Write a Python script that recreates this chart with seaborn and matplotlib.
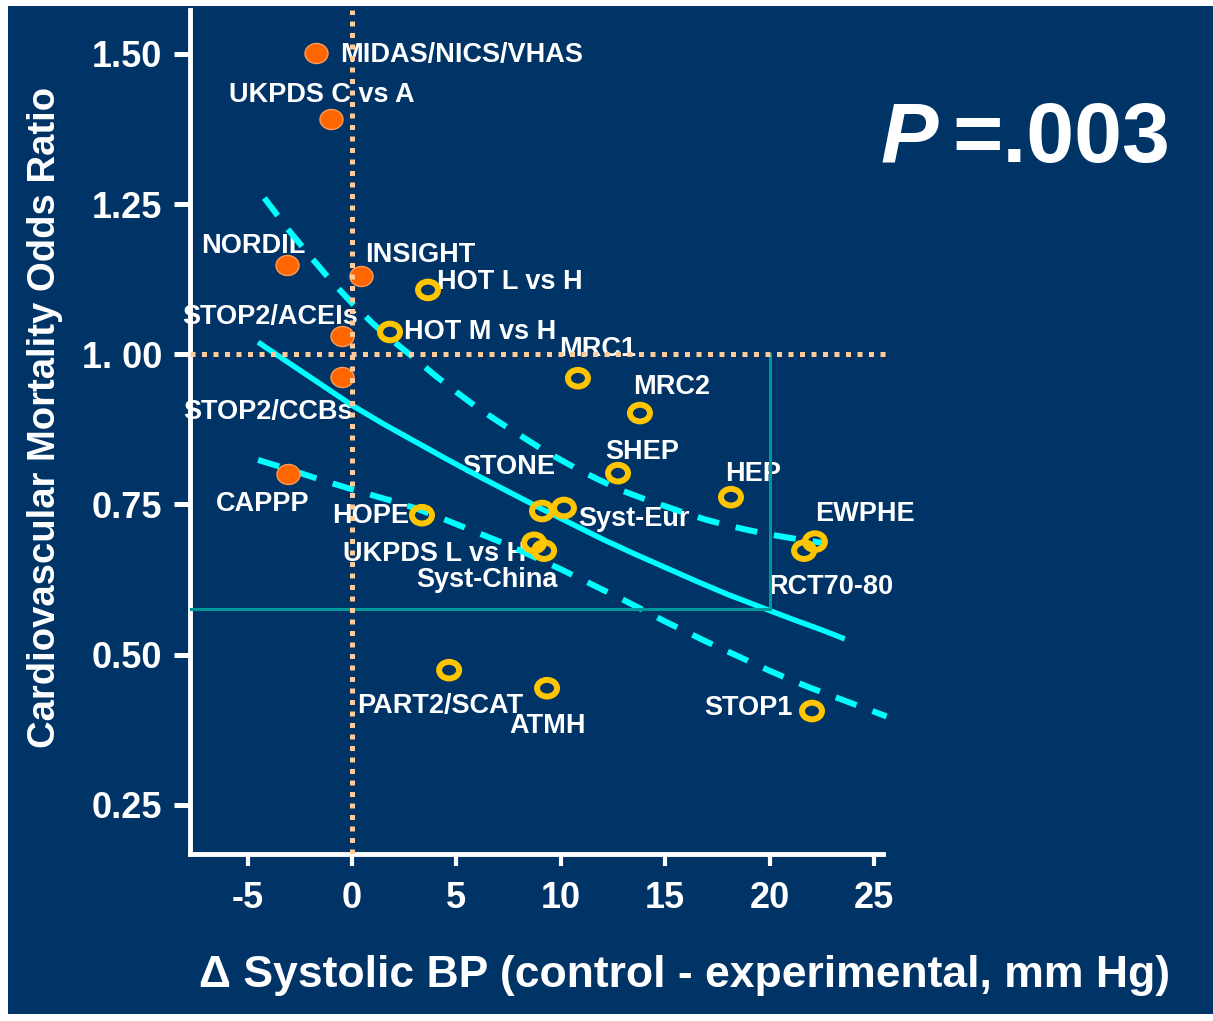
import matplotlib
matplotlib.use("Agg")
import matplotlib.pyplot as plt
from matplotlib.path import Path
from matplotlib.transforms import Affine2D
from matplotlib.patches import Rectangle
import seaborn as sns

# ---- trials comparing active drug classes (filled markers) ----
active_names = ["MIDAS/NICS/VHAS", "UKPDS C vs A", "NORDIL", "INSIGHT",
                "STOP2/ACEIs", "STOP2/CCBs", "CAPPP"]
active_dsbp = [-1.72, -1.0, -3.11, 0.43, -0.48, -0.48, -3.07]
active_or = [1.501, 1.391, 1.149, 1.130, 1.030, 0.962, 0.800]

# ---- trials against placebo / less intensive control (open markers) ----
placebo_names = ["HOT L vs H", "HOT M vs H", "MRC1", "MRC2", "SHEP", "HEP",
                 "STONE", "Syst-Eur", "HOPE", "UKPDS L vs H", "Syst-China",
                 "EWPHE", "RCT70-80", "PART2/SCAT", "ATMH", "STOP1"]
placebo_dsbp = [3.64, 1.82, 10.82, 13.79, 12.74, 18.15, 9.10, 10.15, 3.35,
                8.72, 9.20, 22.17, 21.65, 4.65, 9.34, 22.03]
placebo_or = [1.107, 1.037, 0.960, 0.902, 0.802, 0.762, 0.739, 0.744, 0.732,
              0.686, 0.673, 0.688, 0.673, 0.474, 0.444, 0.406]

# ---- meta-regression line and its confidence limits ----
fit_x = [-4.5, -3, -1.5, 0, 1.5, 3, 4.5, 6, 7.5, 9, 10.5, 12, 13.5, 15,
         16.5, 18, 19.5, 21, 22.5, 23.6]
fit_or = [1.02, 0.985, 0.95, 0.915, 0.884, 0.855, 0.826, 0.798, 0.771,
          0.744, 0.718, 0.692, 0.668, 0.645, 0.622, 0.600, 0.580, 0.560,
          0.541, 0.526]
upper_x = [-4.2, -3, -2, -1, 0, 1, 2, 3, 4, 5, 6, 7, 8, 9, 10, 11, 12, 13,
           14, 15, 16, 17, 18, 19, 20, 21, 22, 22.5]
upper_or = [1.26, 1.205, 1.163, 1.122, 1.085, 1.051, 1.021, 0.993, 0.964,
            0.937, 0.911, 0.888, 0.866, 0.844, 0.824, 0.805, 0.788, 0.772,
            0.759, 0.747, 0.735, 0.724, 0.715, 0.707, 0.700, 0.694, 0.689,
            0.686]
lower_x = [-4.5, -3, -1.5, 0, 1, 2, 3, 4, 5, 6, 7, 8, 9, 10, 11, 12, 13, 14,
           15, 16, 17, 18, 19, 20, 21, 22, 23, 24, 25, 25.6]
lower_or = [0.824, 0.808, 0.791, 0.775, 0.765, 0.755, 0.744, 0.731, 0.717,
            0.703, 0.689, 0.674, 0.658, 0.642, 0.625, 0.608, 0.591, 0.573,
            0.555, 0.538, 0.521, 0.505, 0.489, 0.473, 0.458, 0.444, 0.431,
            0.418, 0.405, 0.397]

# ---- 20 mm Hg reading on the regression line ----
ref_dsbp = 20
ref_or = 0.576

# ---- axis ticks ----
x_ticks = [-5, 0, 5, 10, 15, 20, 25]
x_tick_labels = ["-5", "0", "5", "10", "15", "20", "25"]
y_ticks = [0.25, 0.50, 0.75, 1.00, 1.25, 1.50]
y_tick_labels = ["0.25", "0.50", "0.75", "1. 00", "1.25", "1.50"]

# label placement: (dx, dy) in pixels from the marker, horizontal alignment
label_offsets = {
    "MIDAS/NICS/VHAS": (24, -2, "left"),
    "UKPDS C vs A": (-9, 24, "center"),
    "NORDIL": (-34, 19, "center"),
    "INSIGHT": (4, 21, "left"),
    "STOP2/ACEIs": (-72, 19, "center"),
    "STOP2/CCBs": (-74, -35, "center"),
    "CAPPP": (-25, -30, "center"),
    "HOT L vs H": (9, 8, "left"),
    "HOT M vs H": (14, 0, "left"),
    "MRC1": (20, 29, "center"),
    "MRC2": (32, 26, "center"),
    "SHEP": (24, 21, "center"),
    "HEP": (22, 23, "center"),
    "STONE": (-33, 44, "center"),
    "Syst-Eur": (14, -11, "left"),
    "HOPE": (-13, -1, "right"),
    "UKPDS L vs H": (-8, -11, "right"),
    "Syst-China": (14, -29, "right"),
    "EWPHE": (0, 28, "left"),
    "RCT70-80": (-36, -36, "left"),
    "PART2/SCAT": (-9, -36, "center"),
    "ATMH": (1, -38, "center"),
    "STOP1": (-19, 3, "right"),
}

NAVY = "#003366"
CYAN = "#00FFFF"
ORANGE = "#FF6600"
GOLD = "#FFC600"
PEACH = "#FFCC99"
TEAL = "#009999"

plt.rcParams["font.family"] = ["Liberation Sans", "DejaVu Sans"]
plt.rcParams["font.weight"] = "bold"

W, H = 1213, 1021
fig = plt.figure(figsize=(W / 100, H / 100), dpi=100)
fig.patch.set_facecolor("white")
fig.patches.append(Rectangle((8 / W, 7 / H), (W - 8) / W, (H - 13) / H,
                             transform=fig.transFigure, facecolor=NAVY,
                             edgecolor="none", zorder=-10))

ax = fig.add_axes([190 / W, (H - 854) / H, 693 / W, 844 / H])
ax.set_facecolor("none")
xmin, xmax = -7.76, 25.43
ymin, ymax = 0.168, 1.573
ax.set_xlim(xmin, xmax)
ax.set_ylim(ymin, ymax)

# regression line and confidence limits
sns.lineplot(x=fit_x, y=fit_or, ax=ax, color=CYAN, lw=3.9, estimator=None,
             zorder=4, solid_capstyle="butt", solid_joinstyle="round")
for bx, by in [(upper_x, upper_or), (lower_x, lower_or)]:
    sns.lineplot(x=bx, y=by, ax=ax, color=CYAN, lw=4.3, estimator=None,
                 linestyle=(0, (3.7, 2.85)), dash_capstyle="butt",
                 zorder=4, clip_on=False)

# 20 mm Hg guide
ax.plot([xmin, ref_dsbp], [ref_or, ref_or], color=TEAL, lw=2.2, zorder=4)
ax.plot([ref_dsbp, ref_dsbp], [ref_or, 1.0], color=TEAL, lw=2.2, zorder=4)

# reference lines at no change in BP and OR = 1
ax.axvline(0, color=PEACH, lw=3.6, linestyle=(0, (1, 1.3)),
           dash_capstyle="butt", zorder=6)
ax.plot([xmin, 25.6], [1.0, 1.0], color=PEACH, lw=3.6,
        linestyle=(0, (1, 1.3)), dash_capstyle="butt", zorder=6,
        clip_on=False)

# markers
ellipse_filled = Path.unit_circle().transformed(Affine2D().scale(1.15, 1.0))
ellipse_ring = Path.unit_circle().transformed(Affine2D().scale(1.2, 1.0))
sns.scatterplot(x=active_dsbp, y=active_or, ax=ax, marker=ellipse_filled,
                s=275, color=ORANGE, edgecolor="#FF9A55", linewidth=1.0,
                zorder=5)
sns.scatterplot(x=placebo_dsbp, y=placebo_or, ax=ax, marker=ellipse_ring,
                s=207, facecolor="none", edgecolor=GOLD, linewidth=4.3,
                zorder=5)

# trial labels
for names, xs, ys in [(active_names, active_dsbp, active_or),
                      (placebo_names, placebo_dsbp, placebo_or)]:
    for name, xv, yv in zip(names, xs, ys):
        dx, dy, ha = label_offsets[name]
        ax.annotate(name, (xv, yv), xytext=(dx, dy),
                    textcoords="offset pixels", ha=ha, va="center",
                    color="white", fontsize=19.5, fontweight="bold",
                    zorder=3, annotation_clip=False)

# axes styling
for side in ["top", "right"]:
    ax.spines[side].set_visible(False)
for side in ["left", "bottom"]:
    ax.spines[side].set_color("white")
    ax.spines[side].set_linewidth(3.5)
ax.set_xticks(x_ticks)
ax.set_xticklabels(x_tick_labels)
ax.set_yticks(y_ticks)
ax.set_yticklabels(y_tick_labels)
ax.tick_params(axis="y", length=11.5, width=3.6, pad=8.6, colors="white",
               labelsize=26, direction="out")
ax.tick_params(axis="x", length=8.6, width=3.0, pad=11, colors="white",
               labelsize=26, direction="out")
for lbl in ax.get_xticklabels() + ax.get_yticklabels():
    lbl.set_fontweight("bold")

ax.set_ylabel("Cardiovascular Mortality Odds Ratio", color="white",
              fontsize=27.5, fontweight="bold")
ax.yaxis.label.set_rotation_mode("default")
ax.yaxis.label.set_va("center")
ax.yaxis.set_label_coords((45 - 190) / 693, (854 - 417) / 844)

ax.set_xlabel("\u0394 Systolic BP (control - experimental, mm Hg)",
              color="white", fontsize=32, fontweight="bold")
ax.xaxis.label.set_va("center")
ax.xaxis.set_label_coords((685 - 190) / 693, (854 - 975) / 844)

# P value
fig.text(938 / W, 1 - 162 / H, "P", ha="right", va="baseline", color="white",
         fontsize=62, fontweight="bold", style="italic")
fig.text(952 / W, 1 - 162 / H, "=.003", ha="left", va="baseline",
         color="white", fontsize=62, fontweight="bold")

fig.savefig("out.png", dpi=100, facecolor=fig.get_facecolor())
